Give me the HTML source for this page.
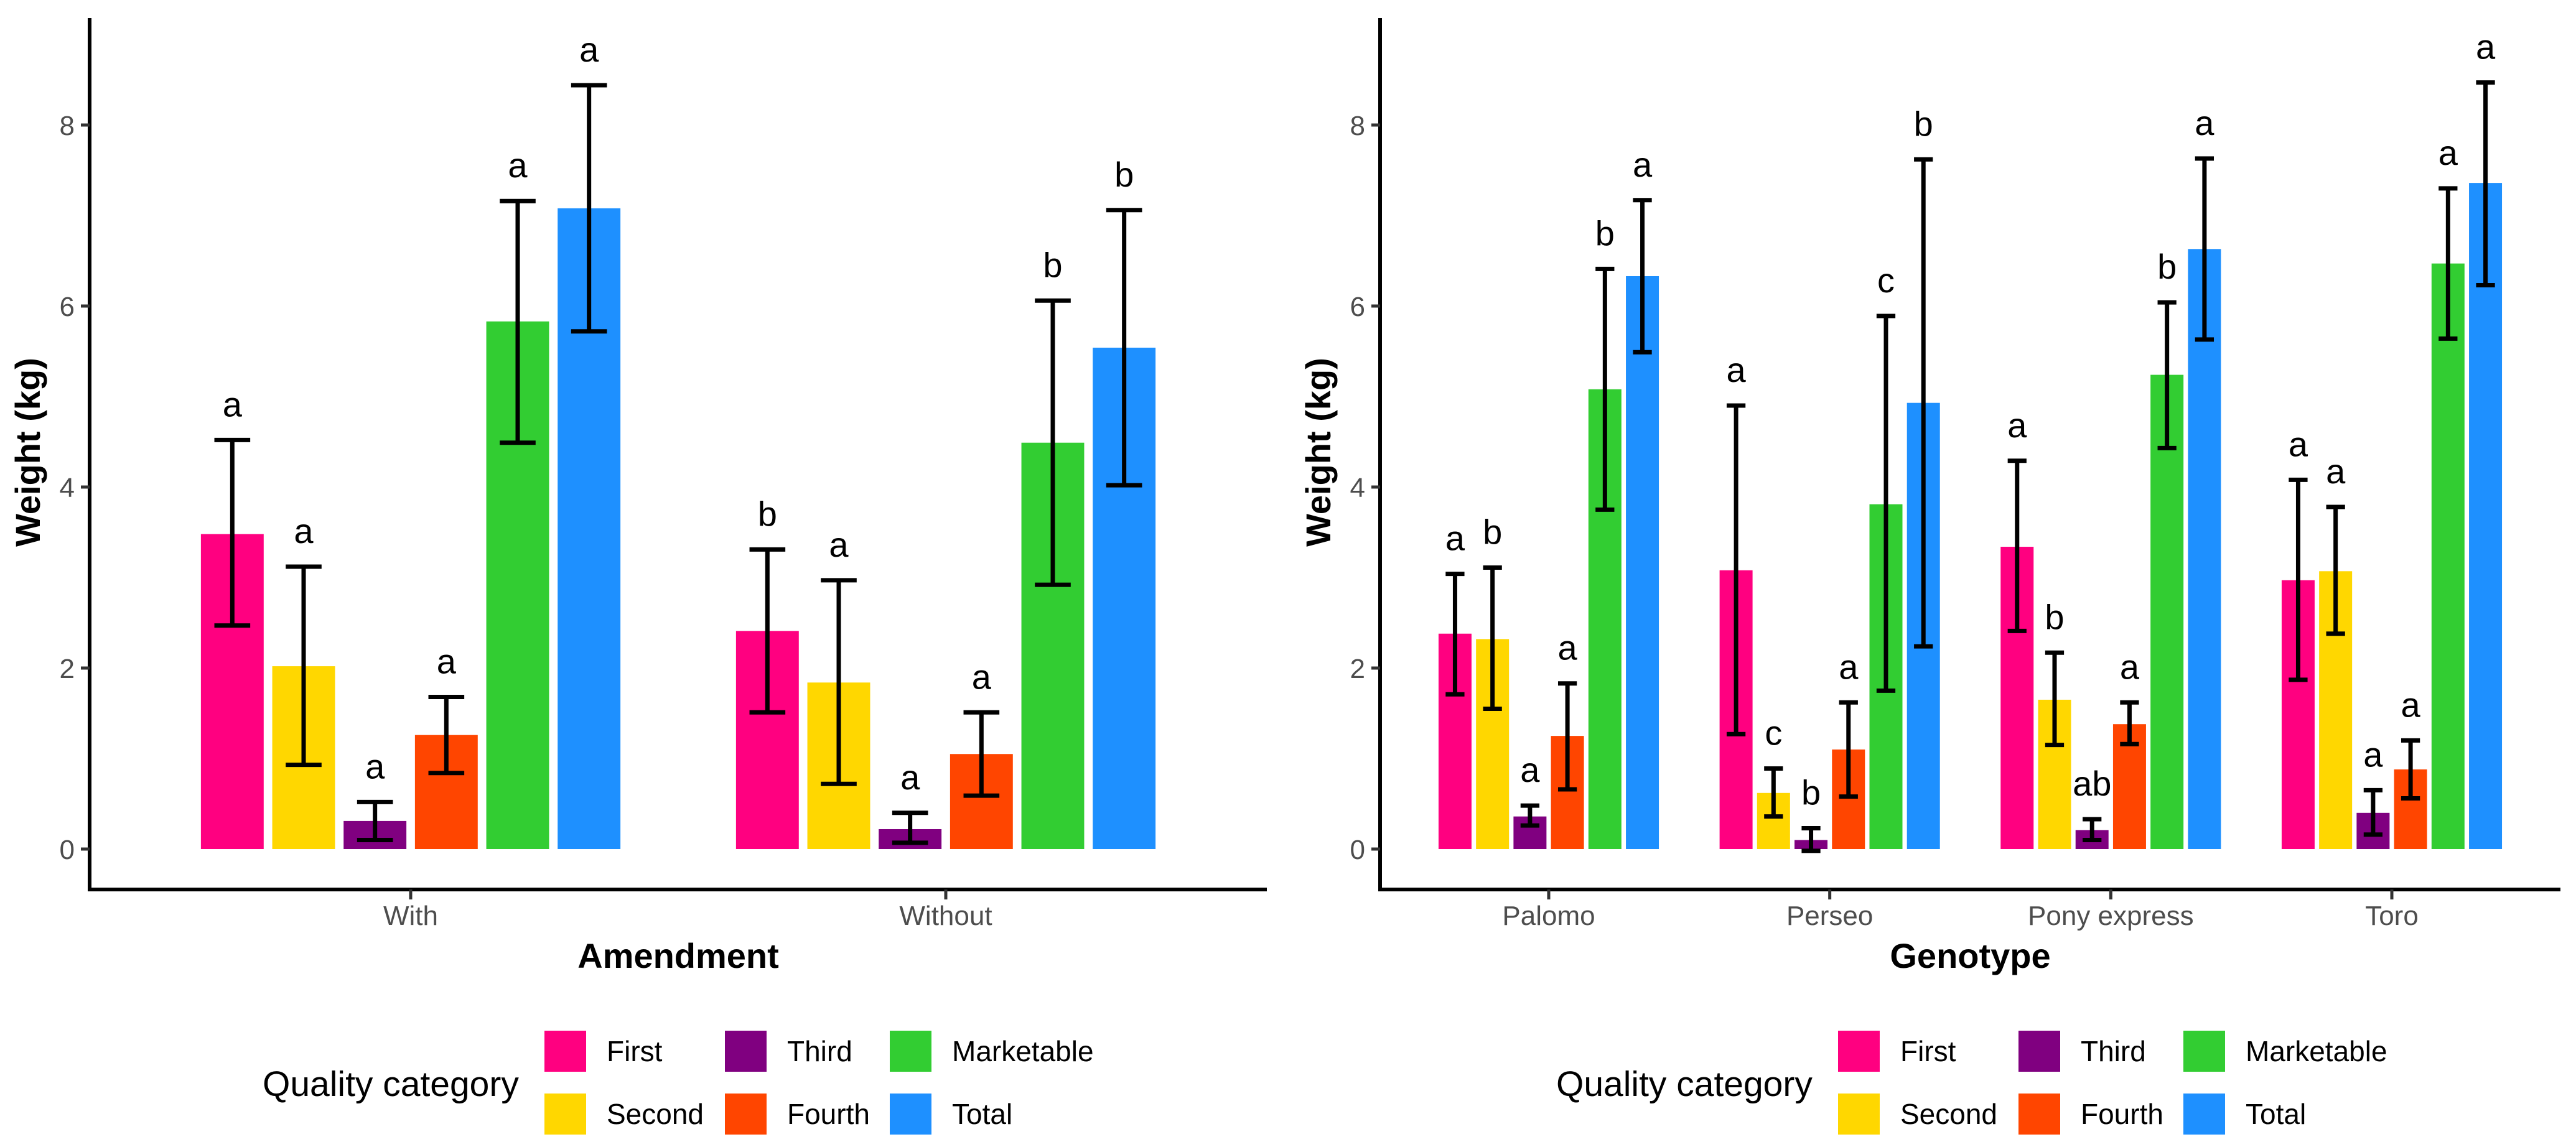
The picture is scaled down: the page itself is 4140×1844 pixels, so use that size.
<!DOCTYPE html>
<html><head><meta charset="utf-8"><style>
html,body{margin:0;padding:0;background:#fff}
svg{display:block;font-family:"Liberation Sans",sans-serif}
</style></head><body>
<svg id="chart" width="4140" height="1844" viewBox="0 0 4140 1844" xmlns="http://www.w3.org/2000/svg"></svg>
<script>
const series = ["First","Second","Third","Fourth","Marketable","Total"];
const colors = ["#FF0080","#FFD700","#800080","#FF4500","#32CD32","#1E90FF"];
const yTicks = [0,2,4,6,8];
// Left panel: Amendment
const amendCats = ["With","Without"];
const amendMean = [[3.48,2.02,0.31,1.26,5.83,7.08],[2.41,1.84,0.22,1.05,4.49,5.54]];
const amendLo = [[2.47,0.93,0.10,0.84,4.49,5.72],[1.51,0.72,0.07,0.59,2.92,4.02]];
const amendHi = [[4.52,3.12,0.52,1.68,7.16,8.44],[3.31,2.97,0.40,1.51,6.06,7.06]];
const amendLetters = [["a","a","a","a","a","a"],["b","a","a","a","b","b"]];
// Right panel: Genotype
const genoCats = ["Palomo","Perseo","Pony express","Toro"];
const genoMean = [[2.38,2.32,0.36,1.25,5.08,6.33],[3.08,0.62,0.10,1.10,3.81,4.93],[3.34,1.65,0.21,1.38,5.24,6.63],[2.97,3.07,0.40,0.88,6.47,7.36]];
const genoLo = [[1.71,1.55,0.26,0.66,3.75,5.49],[1.27,0.36,-0.02,0.58,1.75,2.24],[2.41,1.15,0.10,1.16,4.43,5.63],[1.87,2.38,0.16,0.56,5.64,6.23]];
const genoHi = [[3.04,3.11,0.48,1.83,6.41,7.17],[4.90,0.89,0.23,1.62,5.89,7.62],[4.29,2.17,0.33,1.62,6.04,7.63],[4.08,3.78,0.65,1.20,7.30,8.47]];
const genoLetters = [["a","b","a","a","b","a"],["a","c","b","a","c","b"],["a","b","ab","a","b","a"],["a","a","a","a","a","a"]];

const NS="http://www.w3.org/2000/svg";
const svg=document.getElementById('chart');
function mk(tag,attrs,parent){const e=document.createElementNS(NS,tag);for(const k in attrs)e.setAttribute(k,attrs[k]);(parent||svg).appendChild(e);return e;}

const Y0=1365, PU=145.5;
function yScale(v){return Y0-v*PU;}

function panel(opt){
  const g=mk('g',{});
  
  
  const n=opt.cats.length;
  const unit=(opt.x1-opt.x0)/(n-1+1.2);
  const xScale=i=>opt.x0+(0.6+i)*unit;
  const step=unit*0.8/6, bw=step*0.88, cap=unit*0.067;
  opt.cats.forEach((c,i)=>{
    series.forEach((s,j)=>{
      const cx=xScale(i)-unit*0.4+step*(j+0.5);
      const r=mk('rect',{x:cx-bw/2,y:yScale(opt.mean[i][j]),width:bw,height:yScale(0)-yScale(opt.mean[i][j]),fill:colors[j]},g);
      
      
    });
  });
  opt.cats.forEach((c,i)=>{
    series.forEach((s,j)=>{
      const cx=xScale(i)-unit*0.4+step*(j+0.5);
      const eg=mk('g',{stroke:'#000','stroke-width':7,fill:'none'},g);
      
      
      const yl=yScale(opt.lo[i][j]), yh=yScale(opt.hi[i][j]);
      mk('line',{x1:cx,x2:cx,y1:yl,y2:yh},eg);
      mk('line',{x1:cx-cap/2,x2:cx+cap/2,y1:yl,y2:yl},eg);
      mk('line',{x1:cx-cap/2,x2:cx+cap/2,y1:yh,y2:yh},eg);
      const t=mk('text',{x:cx,y:yh-38,'text-anchor':'middle','font-size':56,fill:'#000'},g);
      t.textContent=opt.letters[i][j];
      
      
    });
  });
  const ya=mk('line',{x1:opt.x0,x2:opt.x0,y1:29,y2:1433,stroke:'#000','stroke-width':6},g);
  
  
  const xa=mk('line',{x1:opt.x0-3,x2:opt.x1,y1:1430,y2:1430,stroke:'#000','stroke-width':6},g);
  
  
  yTicks.forEach(v=>{
    mk('line',{x1:opt.x0-14,x2:opt.x0,y1:yScale(v),y2:yScale(v),stroke:'#333','stroke-width':5},g);
    const t=mk('text',{x:opt.x0-24,y:yScale(v)+16,'text-anchor':'end','font-size':44,fill:'#4d4d4d'},g);
    t.textContent=v;
    
    
  });
  opt.cats.forEach((c,i)=>{
    mk('line',{x1:xScale(i),x2:xScale(i),y1:1430,y2:1446,stroke:'#333','stroke-width':5},g);
    const t=mk('text',{x:xScale(i),y:1487,'text-anchor':'middle','font-size':44,fill:'#4d4d4d'},g);
    t.textContent=c;
    
    
  });
  const yt=mk('text',{x:0,y:0,transform:`translate(${opt.x0-80},727) rotate(-90)`,'text-anchor':'middle','font-size':56,'font-weight':'bold',fill:'#000'},g);
  yt.textContent='Weight (kg)';
  
  
  const xt=mk('text',{x:(opt.x0+opt.x1)/2,y:1556,'text-anchor':'middle','font-size':56,'font-weight':'bold',fill:'#000'},g);
  xt.textContent=opt.xtitle;
  
  
  const L=opt.legendX;
  const lg=mk('g',{},g);
  
  
  const lt=mk('text',{x:L,y:1762,'font-size':57,fill:'#000'},lg);
  lt.textContent='Quality category';
  
  
  const colX=[453,743,1008];
  series.forEach((s,j)=>{
    const col=Math.floor(j/2), row=j%2;
    const kx=L+colX[col], ky=row?1758:1657;
    const e=mk('g',{},lg);
    
    
    mk('rect',{x:kx,y:ky,width:67,height:66,fill:colors[j]},e);
    const t=mk('text',{x:kx+100,y:ky+49,'font-size':46,fill:'#000'},e);
    t.textContent=s;
  });
}
panel({name:'amendment-panel',cats:amendCats,mean:amendMean,lo:amendLo,hi:amendHi,letters:amendLetters,x0:144,x1:2036,xtitle:'Amendment',legendX:422});
panel({name:'genotype-panel',cats:genoCats,mean:genoMean,lo:genoLo,hi:genoHi,letters:genoLetters,x0:2218,x1:4115,xtitle:'Genotype',legendX:2501});
</script>
</body></html>
